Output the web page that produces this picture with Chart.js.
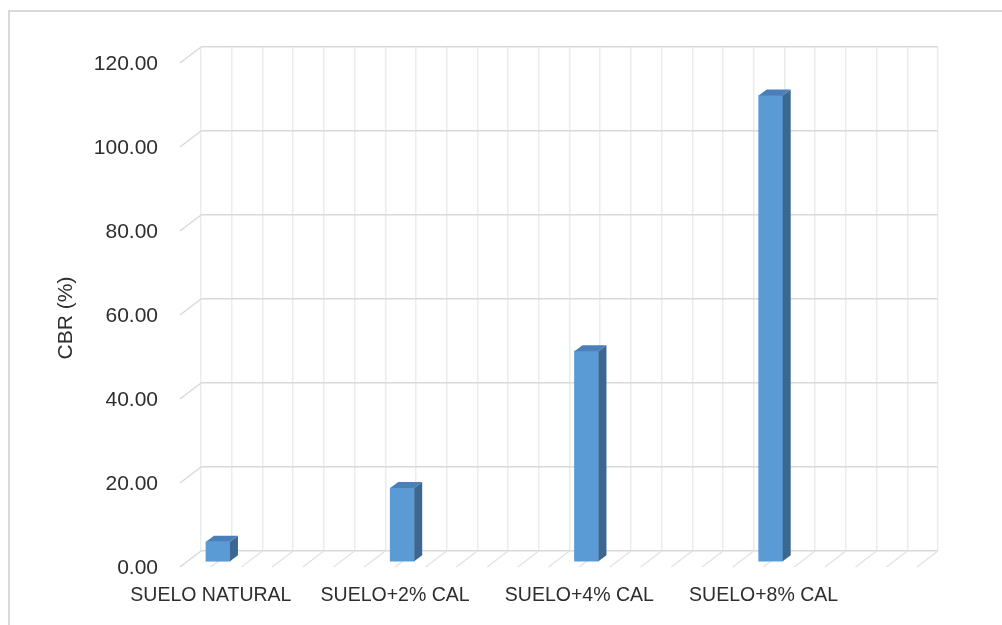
<!DOCTYPE html>
<html>
<head>
<meta charset="utf-8">
<title>CBR (%)</title>
<script src="https://cdn.jsdelivr.net/npm/chart.js@4.4.1/dist/chart.umd.min.js"></script>
<style>
  html, body { margin: 0; padding: 0; background: #ffffff; }
  #wrap { width: 1002px; height: 625px; position: relative; }
  canvas { display: block; }
</style>
</head>
<body>
<div id="wrap"><canvas id="cbrChart" width="1002" height="625"></canvas></div>
<script>
// CBR results for each soil / lime mix
const categories = ['SUELO NATURAL', 'SUELO+2% CAL', 'SUELO+4% CAL', 'SUELO+8% CAL'];
const cbrValues = [4.8, 17.6, 50.2, 111.1];
const yTickValues = [0, 20, 40, 60, 80, 100, 120];
const axisTitle = 'CBR (%)';

// each mix takes six grid slots along the floor; the bar sits in the first one
const slotsPerCategory = 6;
const slotLabels = [];
const slotValues = [];
categories.forEach((name, i) => {
  for (let k = 0; k < slotsPerCategory; k++) {
    slotLabels.push(k === 0 ? name : '');
    slotValues.push(k === 0 ? cbrValues[i] : null);
  }
});

// pseudo-3D look: depth of the walls and of each column
const wallDepth = { dx: -21, dy: 16 };   // from back wall to front edge
const barShift = { dx: 1.6, dy: 11 };    // column front face relative to back wall
const barDepth = { dx: 8, dy: -6 };      // column side / top faces
const colors = {
  front: '#5b9bd5', top: '#4a7fba', side: '#3b6790',
  hGrid: '#d9d9d9', vGrid: '#ececec', floor: '#e3e3e3',
  text: '#2e2e2e', frame: '#d9d9d9'
};
const fontFamily = "'Liberation Sans', Arial, sans-serif";

const excel3d = {
  id: 'excel3d',
  beforeDraw(chart) {
    const ctx = chart.ctx;
    ctx.save();
    ctx.fillStyle = '#ffffff';
    ctx.fillRect(0, 0, chart.width, chart.height);
    // chart frame (left and top edges)
    ctx.strokeStyle = colors.frame;
    ctx.lineWidth = 2;
    ctx.beginPath();
    ctx.moveTo(9, chart.height);
    ctx.lineTo(9, 11);
    ctx.lineTo(chart.width, 11);
    ctx.stroke();
    ctx.restore();
  },
  beforeDatasetsDraw(chart) {
    const ctx = chart.ctx;
    const x = chart.scales.x, y = chart.scales.y;
    const area = chart.chartArea;
    ctx.save();
    // side wall lines at each value gridline
    ctx.strokeStyle = colors.hGrid;
    ctx.lineWidth = 1.5;
    yTickValues.forEach(v => {
      const py = y.getPixelForValue(v);
      ctx.beginPath();
      ctx.moveTo(area.left, py);
      ctx.lineTo(area.left + wallDepth.dx, py + wallDepth.dy);
      ctx.stroke();
    });
    // floor lines running forward from each slot boundary
    ctx.strokeStyle = colors.floor;
    const n = slotLabels.length;
    const slotW = (x.right - x.left) / n;
    for (let i = 1; i <= n; i++) {
      const px = x.left + i * slotW;
      ctx.beginPath();
      ctx.moveTo(px, area.bottom);
      ctx.lineTo(px + wallDepth.dx, area.bottom + wallDepth.dy);
      ctx.stroke();
    }
    ctx.restore();
    // columns stand in front of the back wall
    ctx.save();
    ctx.translate(barShift.dx, barShift.dy);
  },
  afterDatasetsDraw(chart) {
    const ctx = chart.ctx;
    const meta = chart.getDatasetMeta(0);
    meta.data.forEach((el, i) => {
      if (slotValues[i] === null) return;
      const { x, y, base, width } = el.getProps(['x', 'y', 'base', 'width'], true);
      const l = x - width / 2, r = x + width / 2;
      // side face
      ctx.fillStyle = colors.side;
      ctx.beginPath();
      ctx.moveTo(r, y);
      ctx.lineTo(r + barDepth.dx, y + barDepth.dy);
      ctx.lineTo(r + barDepth.dx, base + barDepth.dy);
      ctx.lineTo(r, base);
      ctx.closePath();
      ctx.fill();
      // top face
      ctx.fillStyle = colors.top;
      ctx.beginPath();
      ctx.moveTo(l, y);
      ctx.lineTo(l + barDepth.dx, y + barDepth.dy);
      ctx.lineTo(r + barDepth.dx, y + barDepth.dy);
      ctx.lineTo(r, y);
      ctx.closePath();
      ctx.fill();
    });
    ctx.restore();
  },
  afterDraw(chart) {
    const ctx = chart.ctx;
    const y = chart.scales.y;
    const cy = (y.getPixelForValue(0) + y.getPixelForValue(120)) / 2 + wallDepth.dy + 3;
    ctx.save();
    ctx.translate(66, cy);
    ctx.rotate(-Math.PI / 2);
    ctx.fillStyle = colors.text;
    ctx.font = `21px ${fontFamily}`;
    ctx.textAlign = 'center';
    ctx.textBaseline = 'middle';
    ctx.fillText(axisTitle, 0, 0);
    ctx.restore();
  }
};

Chart.defaults.font.family = fontFamily;
Chart.defaults.color = colors.text;

new Chart(document.getElementById('cbrChart'), {
  type: 'bar',
  data: {
    labels: slotLabels,
    datasets: [{
      label: axisTitle,
      data: slotValues,
      backgroundColor: colors.front,
      borderWidth: 0,
      barThickness: 24,
      clip: false
    }]
  },
  options: {
    responsive: false,
    animation: false,
    devicePixelRatio: 1,
    layout: { padding: { left: 0, top: 47, right: 64, bottom: 0 } },
    plugins: { legend: { display: false }, tooltip: { enabled: false } },
    scales: {
      x: {
        offset: true,
        grid: { display: true, offset: true, color: colors.vGrid, lineWidth: 1.5, drawTicks: false },
        border: { display: false },
        ticks: {
          autoSkip: false, maxRotation: 0, minRotation: 0,
          padding: 33, labelOffset: -5.5,
          font: { size: 19.5 }, color: colors.text
        },
        afterFit(scale) {
          scale.height = 74;
          scale.paddingLeft = 0;
          scale.paddingRight = 0;
        }
      },
      y: {
        min: 0, max: 120,
        grid: { color: colors.hGrid, lineWidth: 1.5, drawTicks: false },
        border: { display: false },
        afterBuildTicks(scale) { scale.ticks = yTickValues.map(v => ({ value: v })); },
        ticks: {
          padding: 43, labelOffset: 17,
          font: { size: 21 }, color: colors.text,
          callback: v => Number(v).toFixed(2)
        },
        afterFit(scale) {
          scale.width = 201;
          scale.paddingTop = 0;
          scale.paddingBottom = 0;
        }
      }
    }
  },
  plugins: [excel3d]
});
</script>
</body>
</html>
